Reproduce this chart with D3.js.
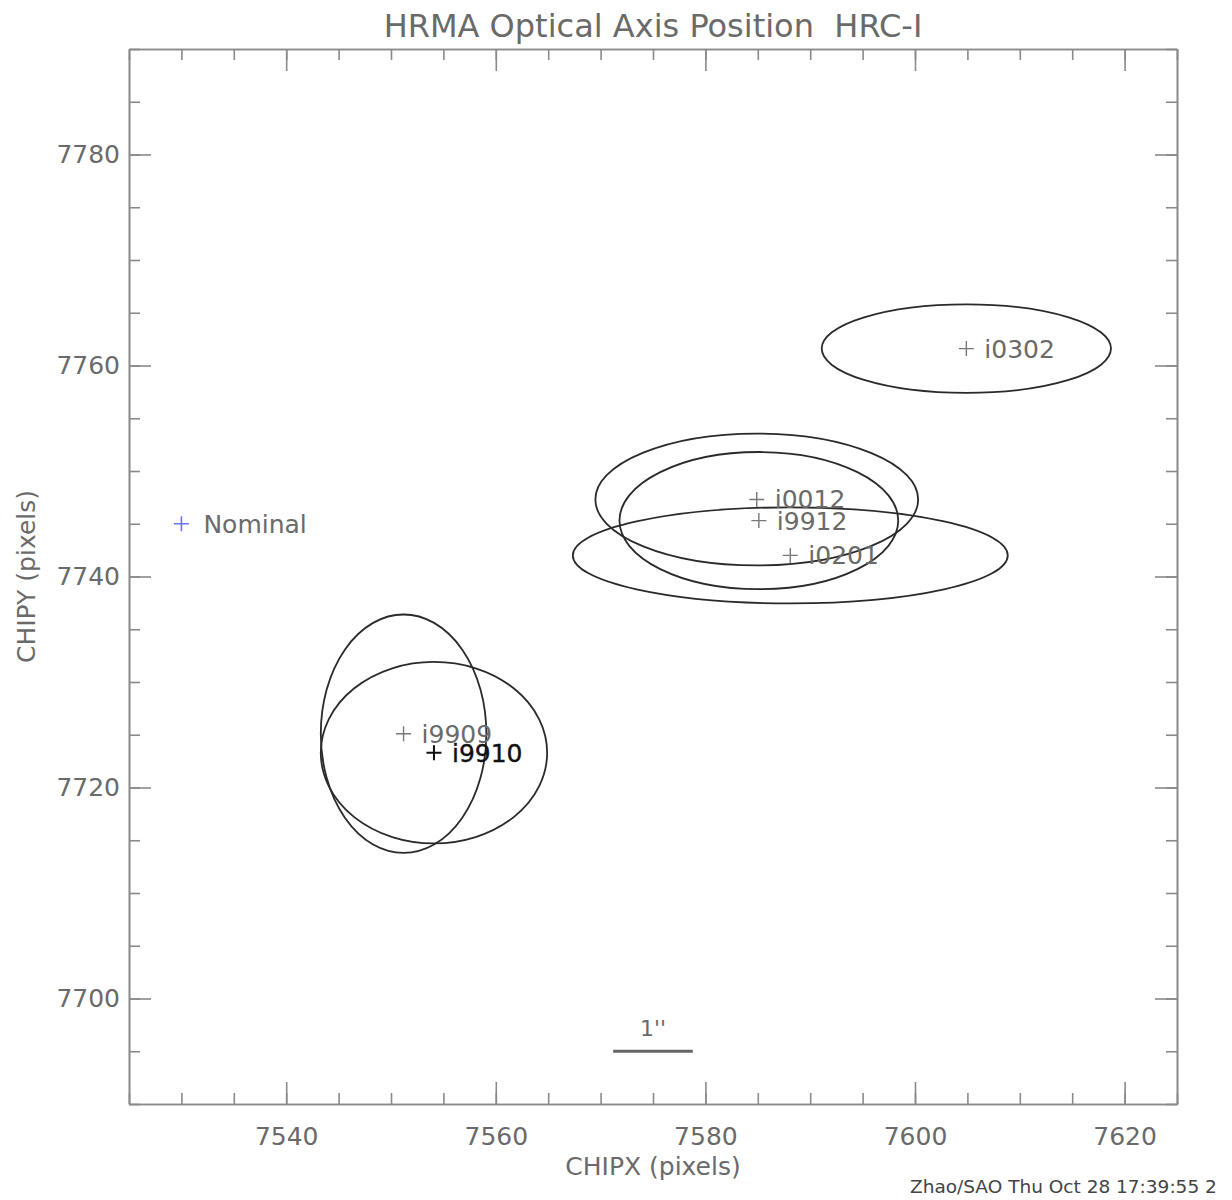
<!DOCTYPE html>
<html>
    <head>
        <meta charset="utf-8">
        <title>HRMA Optical Axis Position HRC-I</title>
        <style>
         body { margin: 0; background: #fff; }
         svg text { font-family: "DejaVu Sans", sans-serif; white-space: pre; }
        </style>
    </head>

    <body>
        <div id="chart"></div>

        <script src="https://cdn.jsdelivr.net/npm/d3@7/dist/d3.min.js"></script>
        <script>
         // observations: name, centre (CHIPX, CHIPY), ellipse semi-axes in pixels
         var obsNames = ["i0302", "i0012", "i9912", "i0201", "i9909", "i9910"]
         var obsX     = [7604.9, 7584.9, 7585.1, 7588.1, 7551.2, 7554.1]
         var obsY     = [7761.6, 7747.3, 7745.3, 7742.0, 7725.1, 7723.3]
         var obsRx    = [13.8, 15.4, 13.3, 20.75, 7.9, 10.8]
         var obsRy    = [4.2, 6.25, 6.5, 4.55, 11.3, 8.6]

         var nominal = {name: "Nominal", x: 7530, y: 7745}

         // 1 arcsec scale bar (HRC-I pixel = 0.13175")
         var scaleBar = {x0: 7571.2, x1: 7578.8, y: 7695, label: "1''"}

         var xDomain = [7525, 7625]
         var yDomain = [7690, 7790]
         var xTicks = [7540, 7560, 7580, 7600, 7620]
         var yTicks = [7700, 7720, 7740, 7760, 7780]
         var minorStep = 5

         var W = 1232, H = 1200
         var margin = {left: 129, right: 55, top: 49, bottom: 96}
         var pw = W - margin.left - margin.right
         var ph = H - margin.top - margin.bottom

         var svg = d3.select("#chart").append("svg")
                     .attr("width", W).attr("height", H)

         var x = d3.scaleLinear().domain(xDomain).range([0, pw])
         var y = d3.scaleLinear().domain(yDomain).range([ph, 0])

         var g = svg.append("g")
                    .attr("transform", "translate(" + margin.left + "," + margin.top + ")")

         var axisCol = "#8a8a8a"
         var textCol = "#6a6a6a"

         var xMinor = d3.range(xDomain[0], xDomain[1] + 0.01, minorStep)
         var yMinor = d3.range(yDomain[0], yDomain[1] + 0.01, minorStep)

         function styleAxis(sel){
             sel.selectAll("path, line").attr("stroke", axisCol).attr("stroke-width", 1.6)
             sel.selectAll("text").attr("fill", textCol).style("font-size", "25px")
                .attr("font-family", "DejaVu Sans")
         }

         // minor ticks, all four sides
         g.append("g").attr("transform", "translate(0," + ph + ")")
          .call(d3.axisBottom(x).tickValues(xMinor).tickSizeInner(-11).tickSizeOuter(0).tickFormat(""))
          .call(styleAxis)
         g.append("g")
          .call(d3.axisTop(x).tickValues(xMinor).tickSizeInner(-11).tickSizeOuter(0).tickFormat(""))
          .call(styleAxis)
         g.append("g")
          .call(d3.axisLeft(y).tickValues(yMinor).tickSizeInner(-11).tickSizeOuter(0).tickFormat(""))
          .call(styleAxis)
         g.append("g").attr("transform", "translate(" + pw + ",0)")
          .call(d3.axisRight(y).tickValues(yMinor).tickSizeInner(-11).tickSizeOuter(0).tickFormat(""))
          .call(styleAxis)

         // major ticks
         g.append("g").attr("transform", "translate(0," + ph + ")")
          .call(d3.axisBottom(x).tickValues(xTicks).tickSizeInner(-22).tickSizeOuter(0)
                  .tickPadding(23).tickFormat(d3.format("d")))
          .call(styleAxis)
         g.append("g")
          .call(d3.axisTop(x).tickValues(xTicks).tickSizeInner(-22).tickSizeOuter(0).tickFormat(""))
          .call(styleAxis)
         g.append("g")
          .call(d3.axisLeft(y).tickValues(yTicks).tickSizeInner(-22).tickSizeOuter(0)
                  .tickPadding(9).tickFormat(d3.format("d")))
          .call(styleAxis)
         g.append("g").attr("transform", "translate(" + pw + ",0)")
          .call(d3.axisRight(y).tickValues(yTicks).tickSizeInner(-22).tickSizeOuter(0).tickFormat(""))
          .call(styleAxis)

         // titles
         svg.append("text")
            .attr("x", margin.left + pw / 2).attr("y", 37)
            .attr("text-anchor", "middle").attr("fill", textCol)
            .style("font-size", "32px")
            .text("HRMA Optical Axis Position  HRC-I")
         svg.append("text")
            .attr("x", margin.left + pw / 2).attr("y", 1175)
            .attr("text-anchor", "middle").attr("fill", textCol)
            .style("font-size", "25px")
            .text("CHIPX (pixels)")
         svg.append("text")
            .attr("transform", "translate(35," + (margin.top + ph / 2) + ") rotate(-90)")
            .attr("text-anchor", "middle").attr("fill", textCol)
            .style("font-size", "25px")
            .text("CHIPY (pixels)")
         svg.append("text")
            .attr("x", 910).attr("y", 1193)
            .attr("fill", "#444")
            .style("font-size", "18.5px")
            .text("Zhao/SAO Thu Oct 28 17:39:55 2")

         var obs = obsNames.map(function(n, i){
             return {name: n, x: obsX[i], y: obsY[i], rx: obsRx[i], ry: obsRy[i]}
         })

         // error ellipses
         g.selectAll("ellipse.err")
          .data(obs).enter().append("ellipse")
          .attr("class", "err")
          .attr("cx", function(d){ return x(d.x) })
          .attr("cy", function(d){ return y(d.y) })
          .attr("rx", function(d){ return x(d.x + d.rx) - x(d.x) })
          .attr("ry", function(d){ return y(d.y) - y(d.y + d.ry) })
          .attr("fill", "none").attr("stroke", "#2a2a2a").attr("stroke-width", 1.8)

         var cross = "M-7.5,0H7.5M0,-7.5V7.5"
         function isLast(d){ return d.name === "i9910" }

         g.selectAll("path.pt")
          .data(obs).enter().append("path")
          .attr("class", "pt")
          .attr("d", cross)
          .attr("transform", function(d){ return "translate(" + x(d.x) + "," + y(d.y) + ")" })
          .attr("stroke", function(d){ return isLast(d) ? "#111" : "#777" })
          .attr("stroke-width", function(d){ return isLast(d) ? 2 : 1.4 })

         g.selectAll("text.lbl")
          .data(obs).enter().append("text")
          .attr("class", "lbl")
          .attr("x", function(d){ return x(d.x) + 18 })
          .attr("y", function(d){ return y(d.y) })
          .attr("dy", "0.36em")
          .attr("fill", function(d){ return isLast(d) ? "#111" : textCol })
          .attr("stroke", function(d){ return isLast(d) ? "#111" : "none" })
          .attr("stroke-width", 0.4)
          .style("font-size", "25px")
          .text(function(d){ return d.name })

         // nominal position
         g.append("path")
          .attr("d", cross)
          .attr("transform", "translate(" + x(nominal.x) + "," + y(nominal.y) + ")")
          .attr("stroke", "#6f6fff").attr("stroke-width", 1.6)
         g.append("text")
          .attr("x", x(nominal.x) + 22).attr("y", y(nominal.y))
          .attr("dy", "0.36em").attr("fill", textCol)
          .style("font-size", "25px")
          .text(nominal.name)

         // scale bar
         g.append("line")
          .attr("x1", x(scaleBar.x0)).attr("x2", x(scaleBar.x1))
          .attr("y1", y(scaleBar.y)).attr("y2", y(scaleBar.y))
          .attr("stroke", "#666").attr("stroke-width", 3)
         g.append("text")
          .attr("x", x((scaleBar.x0 + scaleBar.x1) / 2)).attr("y", y(scaleBar.y) - 15)
          .attr("text-anchor", "middle").attr("fill", textCol)
          .style("font-size", "22px")
          .text(scaleBar.label)
        </script>
    </body>
</html>
